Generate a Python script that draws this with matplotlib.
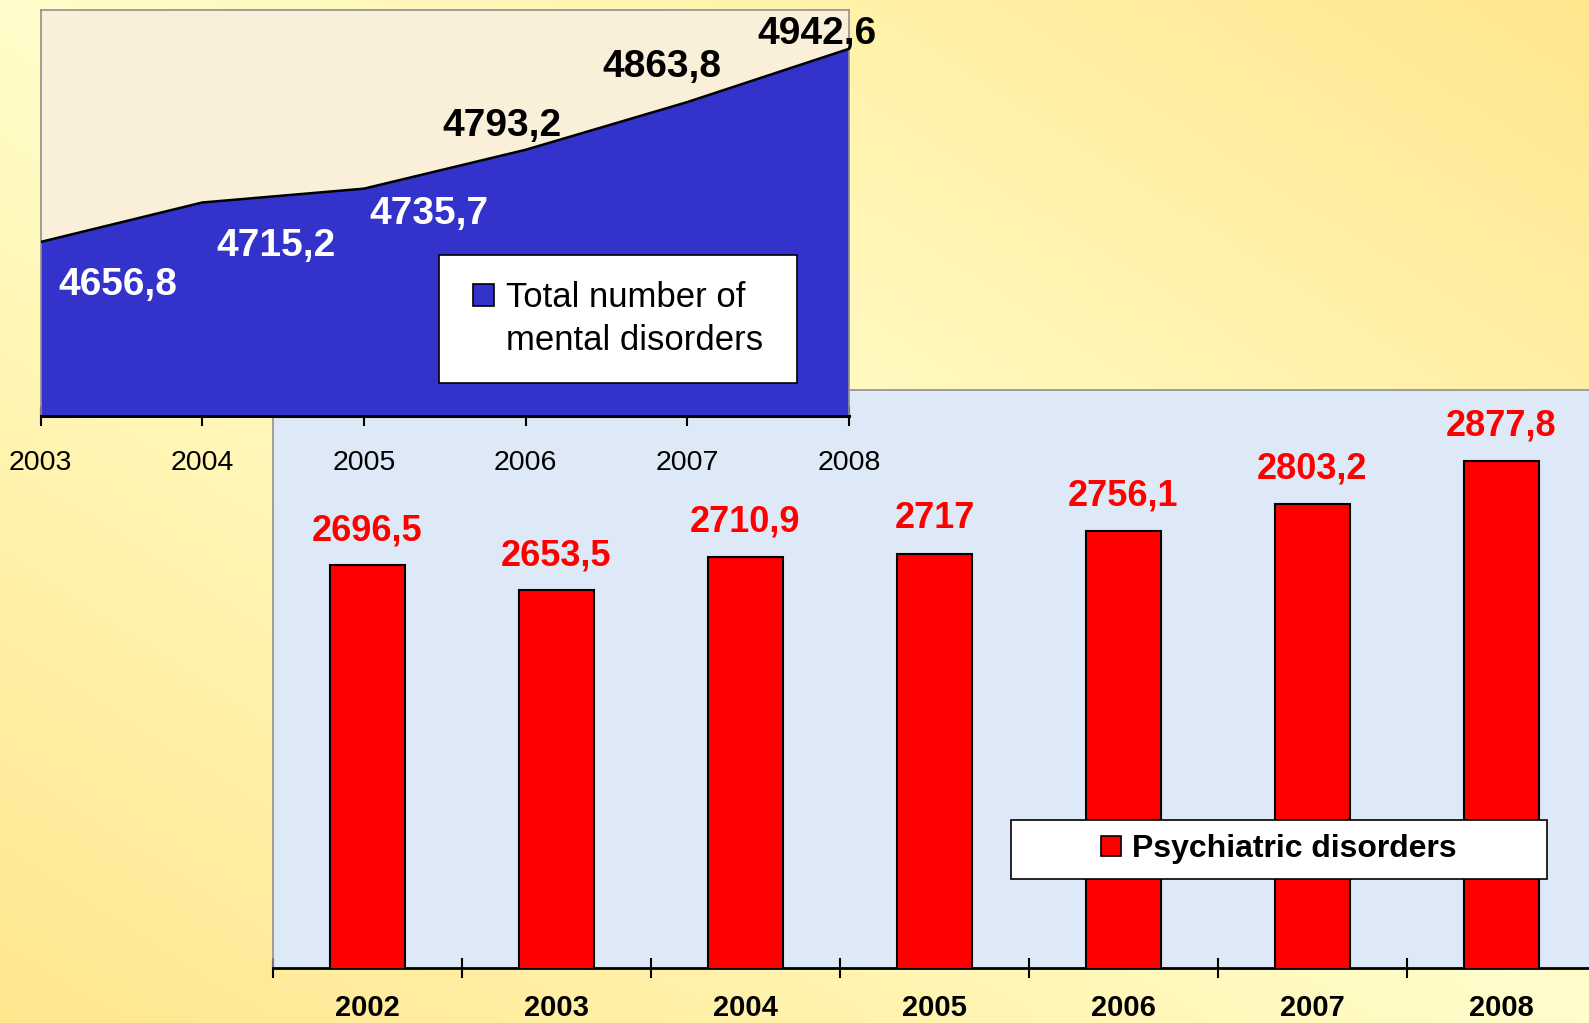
import numpy as np
import matplotlib
matplotlib.use("Agg")
import matplotlib.pyplot as plt
from matplotlib.patches import Rectangle, Patch
from matplotlib.colors import LinearSegmentedColormap

plt.rcParams['font.family'] = ['Liberation Sans', 'DejaVu Sans']

# top chart: total number of mental disorders
total_years = [2003, 2004, 2005, 2006, 2007, 2008]
total_values = [4656.8, 4715.2, 4735.7, 4793.2, 4863.8, 4942.6]

# bottom chart: psychiatric disorders
psych_years = ["2002", "2003", "2004", "2005", "2006", "2007", "2008"]
psych_values = [2696.5, 2653.5, 2710.9, 2717, 2756.1, 2803.2, 2877.8]

# label offsets (points) and colours for the area chart values
area_offsets = [(56, -31), (53, -31), (47, -18), (-17, 17), (-18, 25), (-23, 11)]
area_label_colors = ["white", "white", "white", "black", "black", "black"]

BLUE = "#3333CC"
RED = "#FF0000"


def fmt(v):
    return f"{v:g}".replace(".", ",")


fig = plt.figure(figsize=(15.89, 10.23), dpi=100)

# yellow gradient background
bg = fig.add_axes([0, 0, 1, 1], zorder=-10)
xx, yy = np.meshgrid(np.linspace(0, 1, 400), np.linspace(0, 1, 260))
grad = np.abs(xx - yy)
cmap = LinearSegmentedColormap.from_list("bg", ["#FFFDCB", "#FFF2AA", "#FFE68F"])
bg.imshow(grad, cmap=cmap, aspect="auto", extent=[0, 1, 1, 0], vmin=0, vmax=1)
bg.set_axis_off()

# ---- bottom bar chart ----
ax2 = fig.add_axes([0.1718, 0.0538, 0.8326, 0.565], zorder=1)
ax2.set_facecolor("#DDE9F6")
x = np.arange(len(psych_years))
ax2.bar(x, psych_values, width=0.4, color=RED, edgecolor="black", linewidth=1.5, zorder=3)
ax2.set_ylim(2000, 3000)
ax2.set_xlim(-0.5, len(psych_years) - 0.5)
for xi, v in zip(x, psych_values):
    ax2.annotate(fmt(v), (xi, v), xytext=(0, 25), textcoords="offset points",
                 ha="center", va="center", color=RED, fontsize=26, fontweight="bold")
ax2.set_yticks([])
ax2.set_xticks(x)
ax2.set_xticklabels(psych_years, fontsize=21, fontweight="bold")
ax2.set_xticks(np.arange(-0.5, len(psych_years)), minor=True)
ax2.tick_params(axis="x", which="major", length=0, pad=19)
ax2.tick_params(axis="x", which="minor", length=14, width=1.5, direction="inout")
for s in ["left", "top", "right"]:
    ax2.spines[s].set_color("#909090")
    ax2.spines[s].set_linewidth(1.2)
ax2.spines["bottom"].set_linewidth(2)

# ---- top area chart ----
ax1 = fig.add_axes([0.0255, 0.5938, 0.5088, 0.3964], zorder=2)
ax1.set_facecolor("#FAF0DA")
ax1.fill_between(total_years, total_values, 4400, color=BLUE, edgecolor="none", zorder=2)
ax1.plot(total_years, total_values, color="black", linewidth=1.8, zorder=3)
ax1.set_ylim(4400, 5000)
ax1.set_xlim(total_years[0], total_years[-1])
for xi, v, off, c in zip(total_years, total_values, area_offsets, area_label_colors):
    ax1.annotate(fmt(v), (xi, v), xytext=off, textcoords="offset points",
                 ha="center", va="center", color=c, fontsize=28, fontweight="bold",
                 zorder=5, annotation_clip=False)
ax1.set_yticks([])
ax1.set_xticks(total_years)
ax1.set_xticklabels([str(y) for y in total_years], fontsize=20.5)
ax1.tick_params(axis="x", length=14, width=1.5, direction="inout", pad=18)
for s in ["left", "top", "right"]:
    ax1.spines[s].set_color("#909090")
    ax1.spines[s].set_linewidth(1.2)
ax1.spines["bottom"].set_linewidth(2.2)

# ---- legends (white boxes with centred content) ----
box1 = (0.2763, 0.6256, 0.2253, 0.1251)
fig.add_artist(Rectangle(box1[:2], box1[2], box1[3], transform=fig.transFigure,
                         facecolor="white", edgecolor="black", linewidth=1.2, zorder=10))
fig.legend(handles=[Patch(facecolor=BLUE, edgecolor="black", linewidth=1.2),
                    Patch(visible=False)],
           labels=["Total number of", "mental disorders"],
           loc="center", bbox_to_anchor=(box1[0] + box1[2] / 2, box1[1] + box1[3] / 2),
           frameon=False, fontsize=25, handlelength=0.6, handleheight=0.6,
           handletextpad=0.35, labelspacing=0.3).set_zorder(11)

box2 = (0.6362, 0.1408, 0.3373, 0.0577)
fig.add_artist(Rectangle(box2[:2], box2[2], box2[3], transform=fig.transFigure,
                         facecolor="white", edgecolor="black", linewidth=1.2, zorder=10))
fig.legend(handles=[Patch(facecolor=RED, edgecolor="black", linewidth=1.2)],
           labels=["Psychiatric disorders"],
           loc="center", bbox_to_anchor=(box2[0] + box2[2] / 2, box2[1] + box2[3] / 2),
           frameon=False, handlelength=0.6, handleheight=0.6, handletextpad=0.35,
           prop={"size": 23, "weight": "bold"}).set_zorder(11)

fig.savefig("out.png", dpi=100)
